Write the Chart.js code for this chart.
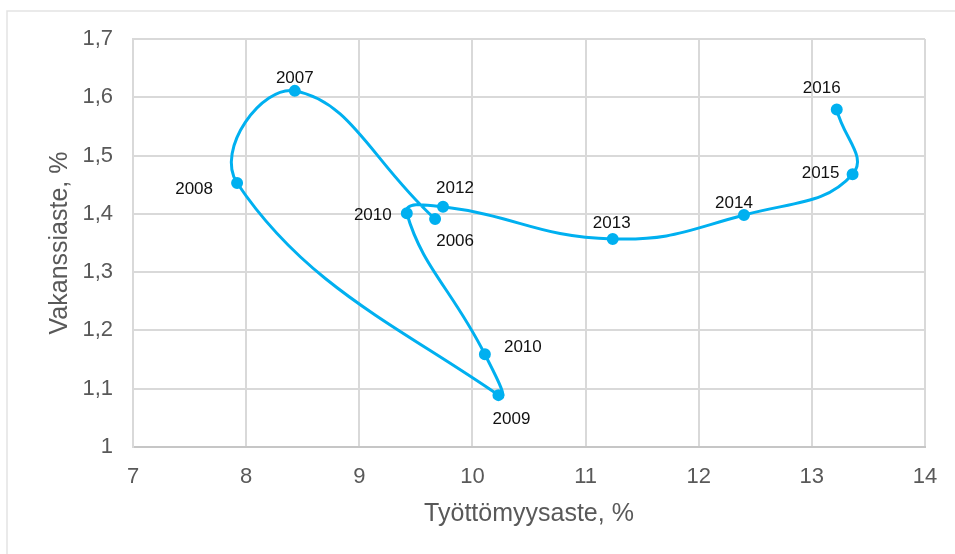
<!DOCTYPE html>
<html lang="fi">
<head>
<meta charset="UTF-8">
<title>Beveridge-käyrä</title>
<script src="https://cdn.jsdelivr.net/npm/chart.js"></script>
<style>
  html, body { margin: 0; padding: 0; background: #fff; }
  #wrap { width: 955px; height: 554px; position: relative; }
</style>
</head>
<body>
<div id="wrap"><canvas id="chart"></canvas></div>
<script>
  // vuodet (kuvan mukaan, toinen "2010" on alkuperäisessä kuvassa näin)
  const years = ['2006', '2007', '2008', '2009', '2010', '2010', '2012', '2013', '2014', '2015', '2016'];
  const unemployment = [9.67, 8.43, 7.92, 10.23, 10.11, 9.42, 9.74, 11.24, 12.40, 13.36, 13.22];
  const vacancy = [1.391, 1.611, 1.453, 1.089, 1.159, 1.401, 1.412, 1.357, 1.398, 1.468, 1.579];

  const xTicks = [7, 8, 9, 10, 11, 12, 13, 14];
  const yTicks = [1, 1.1, 1.2, 1.3, 1.4, 1.5, 1.6, 1.7];

  const points = unemployment.map((x, i) => ({ x: x, y: vacancy[i] }));

  // label offsets from the point, px
  const labelOffsets = [
    [20, 22], [0, -13], [-43, 6], [13, 24], [38, -7], [-34, 2],
    [12, -19], [-1, -16], [-10, -12], [-32, -1], [-15, -21]
  ];

  const frame = {
    id: 'frame',
    beforeDraw(chart) {
      const ctx = chart.ctx;
      ctx.save();
      ctx.strokeStyle = '#e3e3e3';
      ctx.lineWidth = 1.5;
      ctx.beginPath();
      ctx.moveTo(7, 554);
      ctx.lineTo(7, 11);
      ctx.lineTo(955, 11);
      ctx.stroke();
      ctx.restore();
    }
  };

  const yearLabels = {
    id: 'yearLabels',
    afterDatasetsDraw(chart) {
      const ctx = chart.ctx;
      const meta = chart.getDatasetMeta(0);
      ctx.save();
      ctx.font = '17px "Liberation Sans", Arial, sans-serif';
      ctx.fillStyle = '#111';
      ctx.textAlign = 'center';
      ctx.textBaseline = 'middle';
      meta.data.forEach((pt, i) => {
        const off = labelOffsets[i];
        ctx.fillText(years[i], pt.x + off[0], pt.y + off[1]);
      });
      ctx.restore();
    }
  };

  const tickFont = { family: '"Liberation Sans", Arial, sans-serif', size: 22 };
  const titleFont = { family: '"Liberation Sans", Arial, sans-serif', size: 25 };

  new Chart(document.getElementById('chart'), {
    type: 'scatter',
    data: {
      datasets: [{
        data: points,
        showLine: true,
        borderColor: '#00B0F0',
        backgroundColor: '#00B0F0',
        borderWidth: 3,
        pointRadius: 4.5,
        pointHoverRadius: 4.5,
        tension: 0.45
      }]
    },
    options: {
      responsive: true,
      maintainAspectRatio: false,
      animation: false,
      layout: { padding: { left: 8, top: 39, right: 30, bottom: 0 } },
      plugins: {
        legend: { display: false },
        tooltip: { enabled: false }
      },
      scales: {
        x: {
          type: 'linear',
          min: 7,
          max: 14,
          afterBuildTicks: s => { s.ticks = xTicks.map(v => ({ value: v })); },
          afterFit: s => { s.height = 107; },
          grid: { color: '#d9d9d9', lineWidth: 2, drawTicks: false },
          border: { color: '#c6c6c6', width: 2 },
          ticks: { color: '#595959', font: tickFont, padding: 17, maxRotation: 0 },
          title: {
            display: true,
            text: 'Työttömyysaste, %',
            color: '#595959',
            font: titleFont,
            padding: { top: 0, bottom: 25 }
          }
        },
        y: {
          type: 'linear',
          min: 1,
          max: 1.7,
          afterBuildTicks: s => { s.ticks = yTicks.map(v => ({ value: v })); },
          afterFit: s => { s.width = 125; },
          grid: { color: '#d9d9d9', lineWidth: 2, drawTicks: false },
          border: { color: '#d9d9d9', width: 2 },
          ticks: {
            color: '#595959',
            font: tickFont,
            padding: 20,
            callback: v => String(v).replace('.', ',')
          },
          title: {
            display: true,
            text: 'Vakanssiaste, %',
            color: '#595959',
            font: titleFont,
            padding: { top: 37, bottom: 0 }
          }
        }
      }
    },
    plugins: [frame, yearLabels]
  });
</script>
</body>
</html>
